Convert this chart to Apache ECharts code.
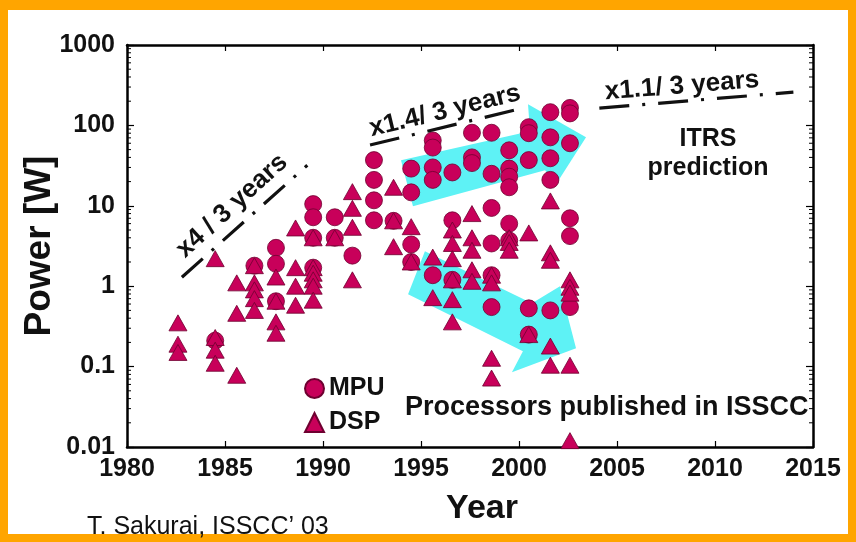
<!DOCTYPE html>
<html>
<head>
<meta charset="utf-8">
<script src="https://cdn.jsdelivr.net/npm/echarts@6/dist/echarts.min.js"></script>
<style>
  html, body { margin: 0; padding: 0; background: #ffffff; }
  #chart { width: 856px; height: 542px; }
</style>
</head>
<body>
<div id="chart"></div>
<script>
// Power of processors published at ISSCC, by year (log scale)
const xTickLabels = [1980, 1985, 1990, 1995, 2000, 2005, 2010, 2015];
const yTickLabels = ['0.01', '0.1', '1', '10', '100', '1000'];

// Microprocessors: [year, power W]
const mpuPoints = [
  [1984.5, 0.21],
  [1986.5, 1.8],
  [1987.6, 3.0], [1987.6, 1.9], [1987.6, 0.65],
  [1989.5, 10.5], [1989.5, 7.2], [1989.5, 4.0], [1989.5, 1.7],
  [1990.6, 7.2], [1990.6, 4.0],
  [1991.5, 2.4],
  [1992.6, 37], [1992.6, 21], [1992.6, 11.7], [1992.6, 6.6],
  [1993.6, 6.5],
  [1994.5, 29], [1994.5, 14.7], [1994.5, 3.3], [1994.5, 2.0],
  [1995.6, 65], [1995.6, 53], [1995.6, 30], [1995.6, 21], [1995.6, 1.37],
  [1996.6, 26], [1996.6, 6.6], [1996.6, 1.2],
  [1997.6, 81], [1997.6, 40], [1997.6, 34],
  [1998.6, 81], [1998.6, 25], [1998.6, 9.4], [1998.6, 3.4], [1998.6, 1.37], [1998.6, 0.55],
  [1999.5, 49], [1999.5, 29], [1999.5, 23], [1999.5, 17], [1999.5, 6.0], [1999.5, 3.7],
  [2000.5, 95], [2000.5, 80], [2000.5, 37], [2000.5, 0.53], [2000.5, 0.25],
  [2001.6, 146], [2001.6, 71], [2001.6, 39], [2001.6, 21], [2001.6, 0.5],
  [2002.6, 165], [2002.6, 141], [2002.6, 60], [2002.6, 7.0], [2002.6, 4.2], [2002.6, 0.55]
];

// Digital signal processors: [year, power W]
const dspPoints = [
  [1982.6, 0.35], [1982.6, 0.19], [1982.6, 0.15],
  [1984.5, 2.2], [1984.5, 0.23], [1984.5, 0.16], [1984.5, 0.11],
  [1985.6, 1.1], [1985.6, 0.46], [1985.6, 0.078],
  [1986.5, 1.8], [1986.5, 1.1], [1986.5, 0.9], [1986.5, 0.7], [1986.5, 0.5],
  [1987.6, 1.3], [1987.6, 0.65], [1987.6, 0.36], [1987.6, 0.26],
  [1988.6, 5.3], [1988.6, 1.7], [1988.6, 1.0], [1988.6, 0.58],
  [1989.5, 4.0], [1989.5, 1.7], [1989.5, 1.45], [1989.5, 1.2], [1989.5, 1.0], [1989.5, 0.67],
  [1990.6, 4.0],
  [1991.5, 15], [1991.5, 9.3], [1991.5, 5.4], [1991.5, 1.2],
  [1993.6, 17], [1993.6, 6.5], [1993.6, 3.1],
  [1994.5, 5.5], [1994.5, 2.0],
  [1995.6, 2.3], [1995.6, 0.72],
  [1996.6, 5.0], [1996.6, 3.4], [1996.6, 2.2], [1996.6, 1.2], [1996.6, 0.68], [1996.6, 0.36],
  [1997.6, 8.0], [1997.6, 4.0], [1997.6, 2.8], [1997.6, 1.6], [1997.6, 1.15],
  [1998.6, 1.37], [1998.6, 1.1], [1998.6, 0.127], [1998.6, 0.072],
  [1999.5, 4.0], [1999.5, 3.5], [1999.5, 2.8],
  [2000.5, 4.6], [2000.5, 0.25],
  [2001.6, 11.5], [2001.6, 2.6], [2001.6, 2.1], [2001.6, 0.18], [2001.6, 0.104],
  [2002.6, 1.2], [2002.6, 0.97], [2002.6, 0.82], [2002.6, 0.104], [2002.6, 0.012]
];

// Growth trend guides: [year, power W] end points
const trendEarly = [[1982.8, 1.29], [1989.2, 32]];
const trendMiddle = [[1992.4, 57], [2000.2, 164]];
const trendItrs = [[2004.1, 164], [2014.0, 259]];

// Block arrows outlining the two clusters, vertices as [year, power W]
const arrowHigh = [
  [1993.98, 36.9], [2000.56, 84.7], [2000.46, 183.5], [2003.42, 71.3],
  [2001.89, 18.6], [2001.33, 27.7], [1994.59, 9.9]
];
const arrowLow = [
  [1995.20, 2.72], [2000.66, 0.615], [2002.09, 1.0], [2002.91, 0.169],
  [1999.64, 0.0852], [2000.20, 0.155], [1994.34, 0.795]
];

const FONT = '"Liberation Sans", Arial, Helvetica, sans-serif';
const MARK = '#C8005A';
const MARK_EDGE = '#6e0030';

// minor log ticks (2..9 in every decade)
const minorTicks = [];
for (let e = -2; e < 3; e++) {
  for (let m = 2; m <= 9; m++) minorTicks.push(m * Math.pow(10, e));
}

const chart = echarts.init(document.getElementById('chart'), null, { renderer: 'canvas' });

const axisLineStyle = { color: '#000', width: 2.5 };
const xBase = {
  type: 'value', min: 1980, max: 2015, interval: 5,
  axisLine: { show: true, onZero: false, lineStyle: axisLineStyle },
  axisTick: { show: true, inside: true, length: 6, lineStyle: { color: '#000', width: 1.2 } },
  splitLine: { show: false }
};
const yBase = {
  type: 'log', logBase: 10, min: 0.01, max: 1000,
  axisLine: { show: true, onZero: false, lineStyle: axisLineStyle },
  axisTick: { show: true, inside: true, length: 7, lineStyle: { color: '#000', width: 1.2 } },
  splitLine: { show: false }
};

const option = {
  backgroundColor: '#FFA500',
  animation: false,
  grid: { left: 127, right: 43, top: 45, bottom: 95, containLabel: false },
  graphic: [
    { type: 'rect', z: -100, silent: true, shape: { x: 8, y: 10, width: 840, height: 524 }, style: { fill: '#ffffff' } },
    // y axis title
    { type: 'text', x: 40, y: 246, rotation: Math.PI / 2, z: 10,
      style: { text: 'Power [W]', font: 'bold 37px ' + FONT, fill: '#111', align: 'center', verticalAlign: 'middle' } },
    { type: 'text', x: 232, y: 206, rotation: 0.74, z: 10,
      style: { text: 'x4 / 3 years', font: 'bold 26px ' + FONT, fill: '#111', align: 'center', verticalAlign: 'middle' } },
    { type: 'text', x: 445, y: 111, rotation: 0.24, z: 10,
      style: { text: 'x1.4/ 3 years', font: 'bold 26px ' + FONT, fill: '#111', align: 'center', verticalAlign: 'middle' } },
    { type: 'text', x: 682, y: 86, rotation: 0.08, z: 10,
      style: { text: 'x1.1/ 3 years', font: 'bold 26px ' + FONT, fill: '#111', align: 'center', verticalAlign: 'middle' } },
    { type: 'text', x: 708, y: 139, z: 10,
      style: { text: 'ITRS', font: 'bold 25px ' + FONT, fill: '#111', align: 'center', verticalAlign: 'middle' } },
    { type: 'text', x: 708, y: 168, z: 10,
      style: { text: 'prediction', font: 'bold 25px ' + FONT, fill: '#111', align: 'center', verticalAlign: 'middle' } },
    { type: 'text', x: 405, y: 408, z: 10,
      style: { text: 'Processors published in ISSCC', font: 'bold 27px ' + FONT, fill: '#111', align: 'left', verticalAlign: 'middle' } },
    { type: 'text', x: 87, y: 527, z: 10,
      style: { text: 'T. Sakurai, ISSCC\u2019 03', font: '25px "Liberation Sans Narrow", "Liberation Sans", Arial, sans-serif', fill: '#111', align: 'left', verticalAlign: 'middle' } }
  ],
  legend: {
    orient: 'vertical', left: 304, top: 376, padding: 0,
    itemWidth: 19, itemHeight: 19, itemGap: 9,
    data: [{ name: 'MPU', icon: 'circle' }, { name: 'DSP', icon: 'triangle' }],
    textStyle: { fontSize: 25, fontWeight: 'bold', fontFamily: FONT, color: '#111' }
  },
  xAxis: [
    Object.assign({}, xBase, {
      position: 'bottom',
      name: 'Year', nameLocation: 'middle', nameGap: 45,
      nameTextStyle: { fontSize: 34, fontWeight: 'bold', fontFamily: FONT, color: '#111', padding: [0, 0, 0, 24] },
      axisLabel: { show: true, margin: 10, fontSize: 25, fontWeight: 'bold', fontFamily: FONT, color: '#111',
        formatter: v => String(xTickLabels.find(t => t === v) ?? v) }
    }),
    Object.assign({}, xBase, { position: 'top', axisLabel: { show: false } })
  ],
  yAxis: [
    Object.assign({}, yBase, {
      position: 'left',
      axisLabel: { show: true, margin: 12, fontSize: 25, fontWeight: 'bold', fontFamily: FONT, color: '#111',
        formatter: v => yTickLabels[Math.round(Math.log10(v)) + 2] }
    }),
    Object.assign({}, yBase, { position: 'right', axisLabel: { show: false } })
  ],
  series: [
    {
      type: 'custom', name: 'arrows', silent: true, z: 1,
      xAxisIndex: 0, yAxisIndex: 0,
      data: [arrowHigh, arrowLow].map((a, i) => [a[0][0], a[0][1], i]),
      renderItem: (params, api) => {
        const poly = [arrowHigh, arrowLow][params.dataIndex];
        return {
          type: 'polygon',
          shape: { points: poly.map(p => api.coord(p)) },
          style: { fill: '#5EF2F5', stroke: 'none' }
        };
      }
    },
    {
      type: 'custom', name: 'minorTicks', silent: true, z: 3,
      xAxisIndex: 0, yAxisIndex: 0, clip: false,
      data: minorTicks.map(v => [1980, v]),
      renderItem: (params, api) => {
        const v = api.value(1);
        const l = api.coord([1980, v]);
        const r = api.coord([2015, v]);
        return {
          type: 'group',
          children: [
            { type: 'line', shape: { x1: l[0], y1: l[1], x2: l[0] + 4, y2: l[1] }, style: { stroke: '#000', lineWidth: 1 } },
            { type: 'line', shape: { x1: r[0], y1: r[1], x2: r[0] - 4, y2: r[1] }, style: { stroke: '#000', lineWidth: 1 } }
          ]
        };
      }
    },
    {
      type: 'scatter', name: 'MPU', z: 4,
      symbol: 'circle', symbolSize: 17,
      itemStyle: { color: MARK, borderColor: MARK_EDGE, borderWidth: 0.8, opacity: 1 },
      data: mpuPoints
    },
    {
      type: 'scatter', name: 'DSP', z: 5,
      symbol: 'triangle', symbolSize: [18, 16],
      itemStyle: { color: MARK, borderColor: MARK_EDGE, borderWidth: 0.8, opacity: 1 },
      data: dspPoints
    },
    {
      type: 'line', name: 'trendEarly', silent: true, z: 6, symbol: 'none',
      lineStyle: { color: '#111', width: 3.2, type: [28, 12, 3, 12], cap: 'butt' },
      data: trendEarly
    },
    {
      type: 'line', name: 'trendMiddle', silent: true, z: 6, symbol: 'none',
      lineStyle: { color: '#111', width: 3.2, type: [30, 13, 3, 13], cap: 'butt' },
      data: trendMiddle
    },
    {
      type: 'line', name: 'trendItrs', silent: true, z: 6, symbol: 'none',
      lineStyle: { color: '#111', width: 3.2, type: [30, 13, 3, 13], cap: 'butt' },
      data: trendItrs
    }
  ]
};

chart.setOption(option);
</script>
</body>
</html>
